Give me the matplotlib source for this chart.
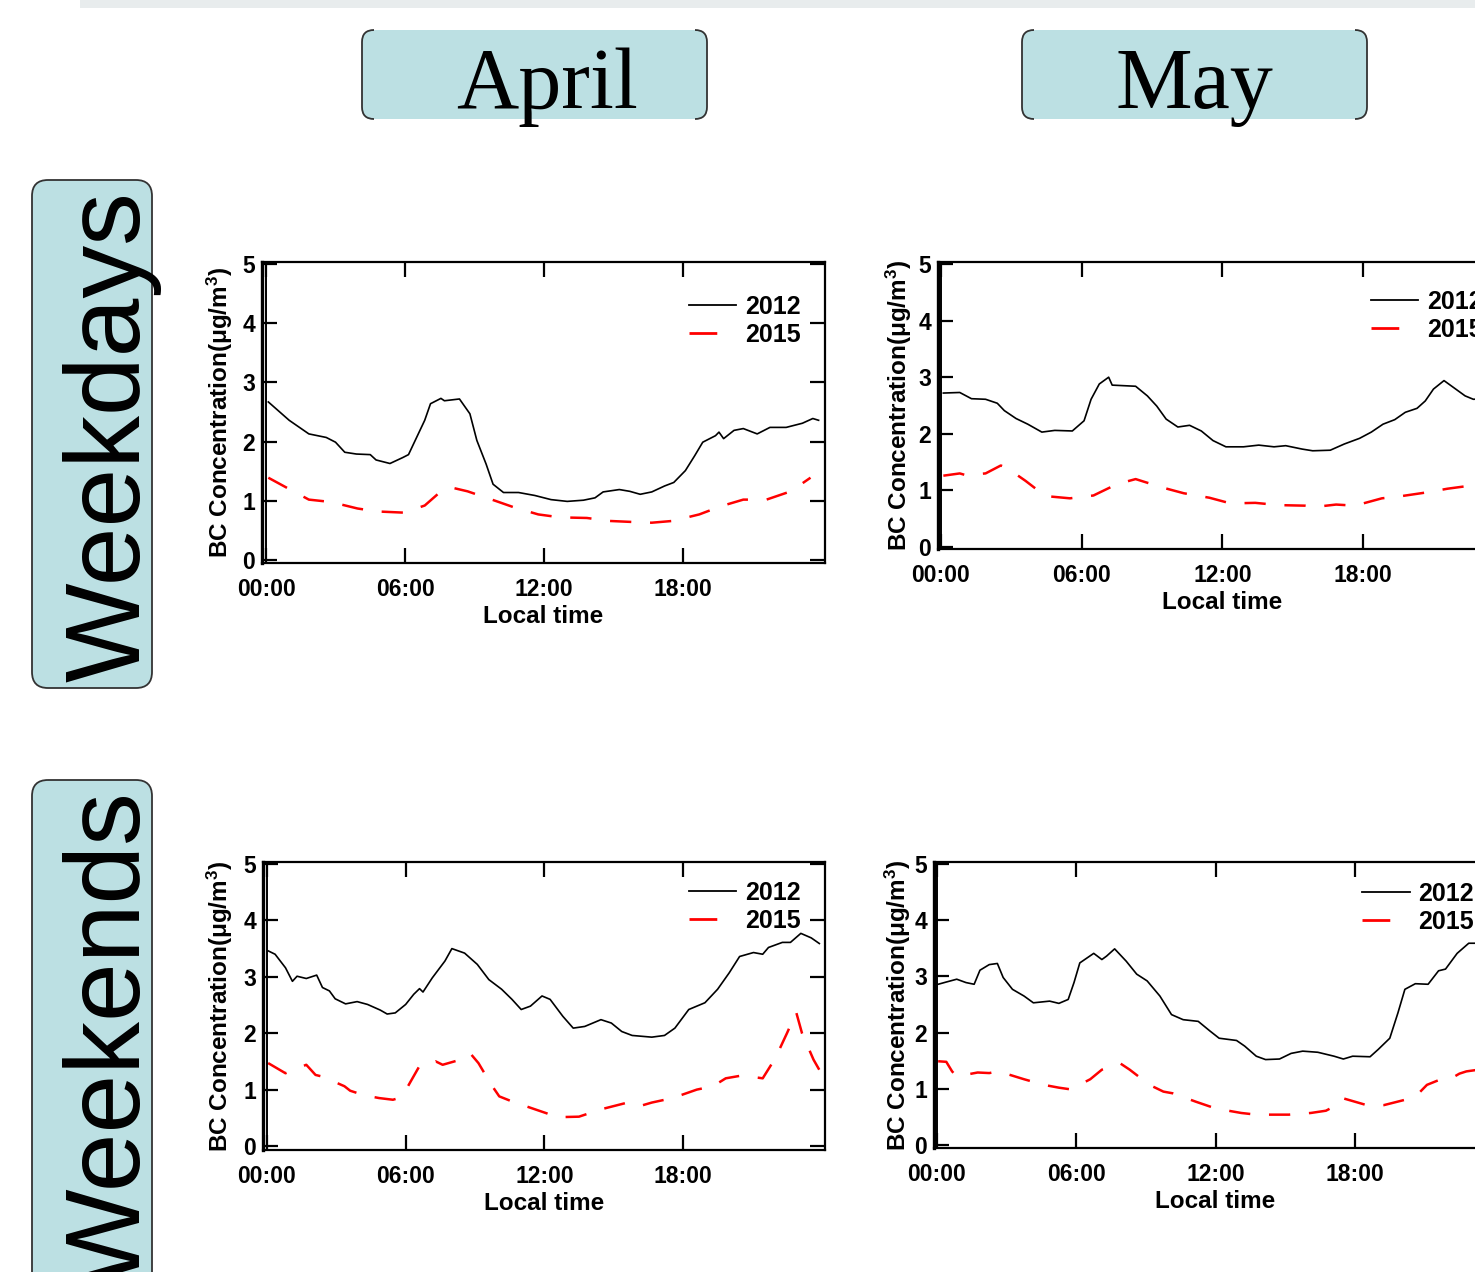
import numpy as np
import matplotlib.pyplot as plt
from matplotlib.patches import FancyBboxPatch, Rectangle
from matplotlib.lines import Line2D

plt.rcParams['font.family'] = ['Liberation Sans', 'DejaVu Sans']
plt.rcParams['mathtext.fontset'] = 'custom'
plt.rcParams['mathtext.rm'] = 'Liberation Sans:bold'
plt.rcParams['mathtext.it'] = 'Liberation Sans:bold'

# (hour, BC) pairs
apr_wd_2012 = [(0.1, 2.67), (1.0, 2.36), (1.85, 2.13), (2.6, 2.07), (3.0, 1.99), (3.4, 1.82),
               (3.9, 1.79), (4.5, 1.78), (4.75, 1.69), (5.35, 1.63), (5.9, 1.73), (6.15, 1.78),
               (6.5, 2.07), (6.85, 2.36), (7.1, 2.64), (7.55, 2.73), (7.7, 2.69), (8.35, 2.72),
               (8.8, 2.47), (9.1, 2.02), (9.5, 1.62), (9.8, 1.28), (10.25, 1.14), (10.9, 1.14),
               (11.6, 1.09), (12.3, 1.02), (13.0, 0.99), (13.7, 1.01), (14.2, 1.05), (14.55, 1.15),
               (15.25, 1.19), (15.7, 1.16), (16.15, 1.11), (16.65, 1.15), (17.2, 1.25), (17.6, 1.31),
               (18.1, 1.51), (18.5, 1.76), (18.85, 1.99), (19.4, 2.10), (19.55, 2.16), (19.75, 2.05),
               (20.2, 2.19), (20.6, 2.22), (21.2, 2.13), (21.75, 2.24), (22.45, 2.24), (23.15, 2.31),
               (23.6, 2.39), (23.85, 2.36)]
apr_wd_2015 = [(0.1, 1.39), (0.9, 1.22), (1.85, 1.02), (2.8, 0.98), (3.95, 0.87), (4.8, 0.82),
               (5.95, 0.80), (6.85, 0.92), (7.55, 1.16), (8.05, 1.22), (8.7, 1.16), (9.75, 1.02),
               (10.7, 0.89), (11.75, 0.77), (12.7, 0.72), (13.85, 0.71), (14.8, 0.66), (15.95, 0.64),
               (16.65, 0.63), (17.55, 0.66), (18.7, 0.77), (19.65, 0.91), (20.6, 1.02), (21.6, 1.02),
               (22.65, 1.16), (23.5, 1.39)]

may_wd_2012 = [(0.1, 2.72), (0.8, 2.73), (1.3, 2.62), (1.9, 2.61), (2.4, 2.54), (2.7, 2.41),
               (3.2, 2.27), (3.7, 2.17), (4.3, 2.03), (4.85, 2.06), (5.6, 2.05), (6.1, 2.23),
               (6.4, 2.61), (6.75, 2.88), (7.15, 3.0), (7.3, 2.86), (7.8, 2.85), (8.3, 2.84),
               (8.8, 2.67), (9.2, 2.49), (9.6, 2.26), (10.1, 2.12), (10.6, 2.15), (11.1, 2.05),
               (11.6, 1.88), (12.15, 1.77), (12.9, 1.77), (13.55, 1.80), (14.2, 1.77), (14.7, 1.79),
               (15.4, 1.73), (15.85, 1.70), (16.6, 1.71), (17.2, 1.82), (17.85, 1.92), (18.35, 2.03),
               (18.85, 2.17), (19.35, 2.25), (19.8, 2.38), (20.3, 2.45), (20.65, 2.58), (21.0, 2.79),
               (21.45, 2.94), (21.95, 2.79), (22.35, 2.67), (22.7, 2.61), (23.3, 2.62), (23.85, 2.66)]
may_wd_2015 = [(0.1, 1.26), (0.8, 1.30), (1.05, 1.27), (1.9, 1.30), (2.55, 1.44), (2.8, 1.40),
               (3.6, 1.17), (4.45, 0.90), (5.5, 0.86), (6.5, 0.91), (7.5, 1.11), (8.3, 1.20),
               (9.45, 1.05), (10.35, 0.95), (11.45, 0.87), (12.35, 0.77), (13.4, 0.78), (14.4, 0.74),
               (15.55, 0.73), (16.0, 0.71), (16.85, 0.75), (17.65, 0.73), (18.8, 0.86), (19.65, 0.90),
               (20.8, 0.97), (21.6, 1.03), (22.5, 1.08), (23.5, 1.12)]

apr_we_2012 = [(0.05, 3.46), (0.35, 3.40), (0.8, 3.16), (1.1, 2.92), (1.3, 3.01), (1.7, 2.97),
               (2.15, 3.03), (2.4, 2.81), (2.7, 2.75), (2.95, 2.61), (3.4, 2.52), (3.9, 2.56),
               (4.35, 2.51), (4.9, 2.41), (5.2, 2.34), (5.55, 2.36), (6.0, 2.51), (6.35, 2.69),
               (6.6, 2.79), (6.75, 2.73), (7.15, 2.98), (7.7, 3.28), (8.0, 3.50), (8.55, 3.42),
               (9.1, 3.22), (9.6, 2.95), (10.15, 2.78), (10.6, 2.60), (11.0, 2.42), (11.4, 2.48),
               (11.9, 2.66), (12.25, 2.60), (12.8, 2.30), (13.25, 2.09), (13.75, 2.12), (14.45, 2.24),
               (14.9, 2.18), (15.35, 2.03), (15.8, 1.96), (16.65, 1.93), (17.2, 1.96), (17.65, 2.09),
               (18.25, 2.42), (18.95, 2.54), (19.5, 2.78), (20.0, 3.07), (20.45, 3.36), (21.05, 3.43),
               (21.45, 3.40), (21.7, 3.52), (22.3, 3.61), (22.65, 3.61), (23.1, 3.77), (23.55, 3.69),
               (23.9, 3.59)]
apr_we_2015 = [(0.05, 1.47), (0.8, 1.29), (1.7, 1.44), (2.1, 1.26), (2.4, 1.23), (3.35, 1.06),
               (3.6, 0.98), (4.2, 0.90), (4.85, 0.85), (5.45, 0.82), (5.7, 0.85), (6.1, 1.06),
               (6.6, 1.42), (7.05, 1.44), (7.3, 1.50), (7.6, 1.44), (8.45, 1.54), (8.8, 1.64),
               (9.15, 1.47), (9.7, 1.09), (10.05, 0.88), (10.6, 0.79), (11.6, 0.65), (12.1, 0.58),
               (12.5, 0.51), (13.5, 0.52), (14.45, 0.65), (15.6, 0.77), (16.15, 0.71), (16.65, 0.77),
               (17.55, 0.85), (18.6, 1.00), (19.3, 1.06), (19.85, 1.20), (20.55, 1.25), (21.45, 1.20),
               (22.0, 1.56), (22.5, 2.00), (22.9, 2.37), (23.15, 2.00), (23.65, 1.53), (23.9, 1.35)]

may_we_2012 = [(0.05, 2.86), (0.4, 2.90), (0.85, 2.95), (1.25, 2.89), (1.6, 2.86), (1.85, 3.11),
               (2.25, 3.21), (2.6, 3.23), (2.85, 2.98), (3.25, 2.77), (3.75, 2.65), (4.15, 2.53),
               (4.85, 2.56), (5.25, 2.52), (5.65, 2.59), (5.9, 2.89), (6.15, 3.24), (6.75, 3.41),
               (7.1, 3.30), (7.3, 3.36), (7.65, 3.49), (8.15, 3.27), (8.6, 3.04), (9.05, 2.92),
               (9.6, 2.65), (10.1, 2.32), (10.6, 2.23), (11.25, 2.20), (11.75, 2.03), (12.15, 1.90),
               (12.9, 1.86), (13.25, 1.76), (13.75, 1.58), (14.15, 1.52), (14.75, 1.53), (15.25, 1.63),
               (15.75, 1.67), (16.4, 1.65), (17.1, 1.58), (17.5, 1.53), (17.9, 1.58), (18.65, 1.57),
               (19.0, 1.70), (19.5, 1.90), (19.85, 2.35), (20.15, 2.77), (20.6, 2.87), (21.15, 2.86),
               (21.6, 3.10), (21.9, 3.13), (22.4, 3.41), (22.9, 3.59), (23.15, 3.59), (23.8, 3.62)]
may_we_2015 = [(0.05, 1.49), (0.4, 1.48), (0.65, 1.31), (0.85, 1.22), (1.75, 1.29), (2.25, 1.28),
               (2.65, 1.31), (3.75, 1.17), (4.6, 1.07), (5.25, 1.02), (5.75, 0.99), (6.6, 1.17),
               (7.1, 1.34), (7.9, 1.45), (8.3, 1.34), (9.15, 1.07), (9.75, 0.95), (10.15, 0.92),
               (11.15, 0.77), (12.0, 0.65), (13.1, 0.57), (13.75, 0.54), (14.5, 0.54), (15.15, 0.54),
               (16.1, 0.57), (16.75, 0.61), (17.35, 0.74), (17.5, 0.83), (18.5, 0.71), (19.25, 0.71),
               (20.4, 0.83), (20.65, 0.88), (21.1, 1.07), (22.0, 1.22), (22.25, 1.21), (22.5, 1.27),
               (22.8, 1.31), (23.5, 1.35)]

time_ticks = [0, 6, 12, 18]
time_labels = ['00:00', '06:00', '12:00', '18:00']
bc_ticks = [0, 1, 2, 3, 4, 5]
years = ['2012', '2015']

W, H = 1475, 1272
fig = plt.figure(figsize=(W / 100, H / 100), dpi=100)

# background layer in pixel coordinates for the banner boxes
bg = fig.add_axes([0, 0, 1, 1])
bg.set_xlim(0, W)
bg.set_ylim(H, 0)
bg.axis('off')
bg.add_patch(Rectangle((80, 0), W - 80, 8, color='#e8eced', lw=0))

box_fill = '#bce0e3'


def banner(x0, y0, x1, y1, r, sides_only=False):
    fill = FancyBboxPatch((x0 + r, y0 + r), x1 - x0 - 2 * r, y1 - y0 - 2 * r,
                          boxstyle=f'round,pad={r}', fc=box_fill, ec='none')
    bg.add_patch(fill)
    if sides_only:
        for cx in (x0 - 4, x1 - 12):
            e = FancyBboxPatch((x0 + r, y0 + r), x1 - x0 - 2 * r, y1 - y0 - 2 * r,
                               boxstyle=f'round,pad={r}', fc='none', ec='#333333', lw=1.3)
            bg.add_patch(e)
            clip = Rectangle((cx, y0 - 5), 16, y1 - y0 + 10, transform=bg.transData)
            e.set_clip_path(clip)
    else:
        edge = FancyBboxPatch((x0 + r, y0 + r), x1 - x0 - 2 * r, y1 - y0 - 2 * r,
                              boxstyle=f'round,pad={r}', fc='none', ec='#333333', lw=1.3)
        bg.add_patch(edge)


banner(362, 30, 707, 119, 12, sides_only=True)
banner(1022, 30, 1367, 119, 12, sides_only=True)
banner(32, 180, 152, 688, 16)
banner(32, 780, 152, 1320, 16)

bg.text(547, 108, 'April', family=['Liberation Serif', 'DejaVu Serif'], fontsize=62,
        ha='center', va='baseline')
bg.text(1194, 108, 'May', family=['Liberation Serif', 'DejaVu Serif'], fontsize=62,
        ha='center', va='baseline')
bg.text(140, 437, 'Weekdays', rotation=90, rotation_mode='anchor', fontsize=76,
        ha='center', va='baseline')
bg.text(140, 1040, 'Weekends', rotation=90, rotation_mode='anchor', fontsize=76,
        ha='center', va='baseline')

# frame (l, t, r, b) in pixels, then 00:00 pixel, px/hour, 0-value pixel, px/unit
panels = [
    ((262, 262, 825, 563), 266, 23.17, 560, 59.2, apr_wd_2012, apr_wd_2015, 235, (0.957, 0.89)),
    ((938, 262, 1507, 549), 941, 23.45, 547, 56.6, may_wd_2012, may_wd_2015, 914, (0.957, 0.902)),
    ((263, 862, 825, 1150), 267, 23.11, 1146, 56.4, apr_we_2012, apr_we_2015, 235, (0.957, 0.934)),
    ((934, 862, 1497, 1148), 937, 23.22, 1145, 56.2, may_we_2012, may_we_2015, 913, (0.959, 0.93)),
]

leg_handles = [Line2D([], [], color='black', lw=1.3),
               Line2D([], [], color='red', lw=2.0, dashes=(10, 30))]

for (l, t, r, b), x0, pxh, y0, pxv, s12, s15, lab_x, leg_xy in panels:
    ax = fig.add_axes([l / W, 1 - b / H, (r - l) / W, (b - t) / H])
    ax.set_facecolor('none')
    h12, v12 = np.array(s12).T
    h15, v15 = np.array(s15).T
    ax.plot(h12, v12, color='black', lw=1.2)
    ax.plot(h15, v15, color='red', lw=1.8, dashes=(8.5, 7.5))
    ax.axvline(0, color='black', lw=1.4)
    ax.set_xlim((l - x0) / pxh, (r - x0) / pxh)
    ax.set_ylim((y0 - b) / pxv, (y0 - t) / pxv)
    ax.set_xticks(time_ticks)
    ax.set_xticklabels(time_labels, fontweight='bold')
    ax.set_yticks(bc_ticks)
    ax.set_yticklabels([str(v) for v in bc_ticks], fontweight='bold')
    ax.tick_params(direction='in', length=11, width=1.6, top=True, right=True,
                   labelsize=16.5)
    ax.tick_params(axis='x', pad=11)
    ax.tick_params(axis='y', pad=5)
    for sp in ax.spines.values():
        sp.set_linewidth(1.6)
    ax.spines['left'].set_linewidth(2.4)
    ax.set_xlabel('Local time', fontsize=17.5, fontweight='bold', labelpad=3)
    ax.set_ylabel('BC Concentration(μg/m$^{3}$)', fontsize=17.5, fontweight='bold')
    ax.yaxis.set_label_coords((lab_x - l) / (r - l), 0.5)
    ax.legend(leg_handles, years, loc='upper right', bbox_to_anchor=leg_xy, frameon=False,
              prop={'size': 18, 'weight': 'bold'}, handlelength=1.9, handletextpad=0.35,
              labelspacing=0.15, borderpad=0, borderaxespad=0)

fig.savefig('out.png', dpi=100)
